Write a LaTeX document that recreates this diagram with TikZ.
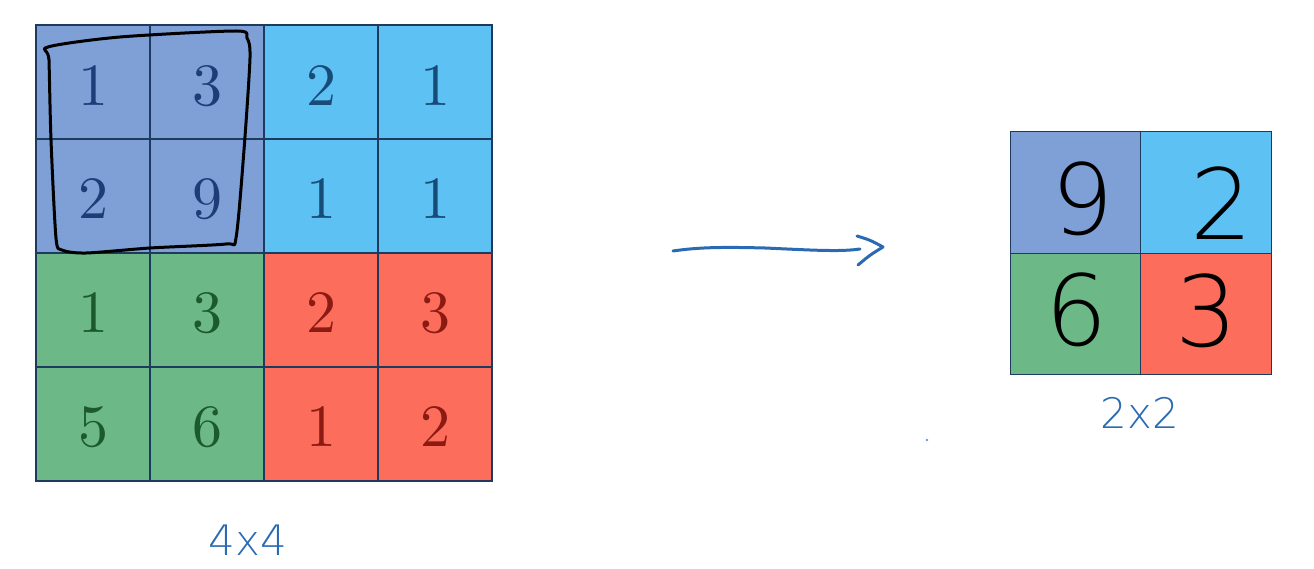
\documentclass[tikz,border=0pt]{standalone}
\usepackage{fontspec}
\newfontfamily\hand{DejaVu Sans ExtraLight}
\newfontfamily\lmten{lmroman10-regular.otf}
\definecolor{cpurple}{HTML}{7EA0D6}
\definecolor{cblue}{HTML}{5EC1F4}
\definecolor{cgreen}{HTML}{6CB886}
\definecolor{cred}{HTML}{FC6D5C}
\definecolor{tpurple}{HTML}{1E3C78}
\definecolor{tblue}{HTML}{184C78}
\definecolor{tgreen}{HTML}{1B5A2B}
\definecolor{tred}{HTML}{8B1A12}
\definecolor{gridline}{HTML}{1F3A5F}
\definecolor{penblue}{HTML}{2A6AB2}
\begin{document}
\begin{tikzpicture}[x=1pt,y=-1pt,
  bigcell/.style={draw=gridline, line width=1.3pt, minimum width=114pt, minimum height=114pt, inner sep=0pt},
  bigdigit/.style={font=\lmten\fontsize{60}{60}\selectfont, inner sep=0pt},
  smallcell/.style={draw=gridline, line width=1.3pt, minimum width=130.5pt, minimum height=121.5pt, inner sep=0pt},
  handdigit/.style={font=\hand\fontsize{98}{98}\selectfont, text=black, inner sep=0pt},
  handlabel/.style={font=\hand\fontsize{42}{42}\selectfont, text=penblue, inner sep=0pt},
  pen/.style={line width=3pt, line cap=round, line join=round}
]
\useasboundingbox (0,0) rectangle (1314,569);
% big 4x4 grid
\node[bigcell, fill=cpurple] (a11) at (93,82) {};
\node[bigcell, fill=cpurple] (a12) at (207,82) {};
\node[bigcell, fill=cblue] (a13) at (321,82) {};
\node[bigcell, fill=cblue] (a14) at (435,82) {};
\node[bigcell, fill=cpurple] (a21) at (93,196) {};
\node[bigcell, fill=cpurple] (a22) at (207,196) {};
\node[bigcell, fill=cblue] (a23) at (321,196) {};
\node[bigcell, fill=cblue] (a24) at (435,196) {};
\node[bigcell, fill=cgreen] (a31) at (93,310) {};
\node[bigcell, fill=cgreen] (a32) at (207,310) {};
\node[bigcell, fill=cred] (a33) at (321,310) {};
\node[bigcell, fill=cred] (a34) at (435,310) {};
\node[bigcell, fill=cgreen] (a41) at (93,424) {};
\node[bigcell, fill=cgreen] (a42) at (207,424) {};
\node[bigcell, fill=cred] (a43) at (321,424) {};
\node[bigcell, fill=cred] (a44) at (435,424) {};
% digits
\node[bigdigit, text=tpurple] (d11) at (93,86) {1};
\node[bigdigit, text=tpurple] (d12) at (207,86) {3};
\node[bigdigit, text=tblue] (d13) at (321,86) {2};
\node[bigdigit, text=tblue] (d14) at (435,86) {1};
\node[bigdigit, text=tpurple] (d21) at (93,199) {2};
\node[bigdigit, text=tpurple] (d22) at (207,199) {9};
\node[bigdigit, text=tblue] (d23) at (321,199) {1};
\node[bigdigit, text=tblue] (d24) at (435,199) {1};
\node[bigdigit, text=tgreen] (d31) at (93,313) {1};
\node[bigdigit, text=tgreen] (d32) at (207,313) {3};
\node[bigdigit, text=tred] (d33) at (321,313) {2};
\node[bigdigit, text=tred] (d34) at (435,313) {3};
\node[bigdigit, text=tgreen] (d41) at (93,427) {5};
\node[bigdigit, text=tgreen] (d42) at (207,427) {6};
\node[bigdigit, text=tred] (d43) at (321,427) {1};
\node[bigdigit, text=tred] (d44) at (435,427) {2};
% hand-drawn window
\draw[pen, black] plot[smooth cycle, tension=0.45] coordinates {
  (48,47) (120,37) (236,31) (247,38) (250,58) (244,150) (236,238) (226,244)
  (150,248) (86,253) (62,250) (56,238) (51,140) (49,60)};
% arrow
\coordinate (as) at (673,251);
\coordinate (ae) at (883,247);
\draw[pen, penblue] (as) .. controls (700,247) and (725,247) .. (765,248)
   .. controls (810,250) and (840,252) .. (860,249);
\draw[pen, penblue] (857,236) .. controls (870,240) .. (ae)
   .. controls (870,255) .. (858,265);
% small 2x2 grid
\node[smallcell, fill=cpurple] (b11) at (1075.5,192.5) {};
\node[smallcell, fill=cblue] (b12) at (1206,192.5) {};
\node[smallcell, fill=cgreen] (b21) at (1075.5,314) {};
\node[smallcell, fill=cred] (b22) at (1206,314) {};
\node[handdigit] (e11) at (1083,199) {9};
\node[handdigit] (e12) at (1222,203) {2};
\node[handdigit] (e21) at (1077,310) {6};
\node[handdigit] (e22) at (1207,311) {3};
% labels
\node[handlabel] (l44) at (248,540) {4x4};
\node[handlabel] (l22) at (1140,413) {2x2};
\fill[penblue!70] (927,440) circle (1.3pt);
\end{tikzpicture}
\end{document}
